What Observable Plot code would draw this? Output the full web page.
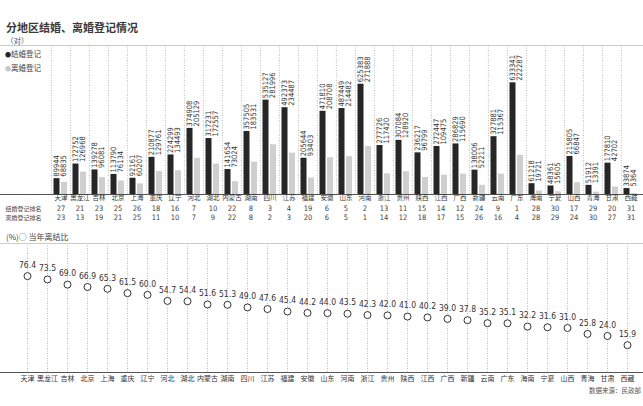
<!DOCTYPE html>
<html>
<head>
<meta charset="utf-8">
<script src="https://cdn.jsdelivr.net/npm/d3@7"></script>
<script src="https://cdn.jsdelivr.net/npm/@observablehq/plot@0.6"></script>
<style>
  body { margin: 0; background: #fff; }
  #wrap { position: relative; width: 643px; height: 406px; overflow: hidden; font-family: "Noto Sans CJK SC", sans-serif; color: #333; }
  .abs { position: absolute; white-space: nowrap; line-height: 1; }
  #topChart, #bottomChart { position: absolute; left: 0; }
</style>
</head>
<body>
<div id="wrap">
  <div class="abs" style="left:6px;top:22px;font-size:11px;font-weight:bold;color:#3a3a3a;">分地区结婚、离婚登记情况</div>
  <div class="abs" style="left:6px;top:37px;font-size:7.5px;color:#555;">（对）</div>
  <div class="abs" style="left:0;top:45px;width:643px;border-top:1px solid #ccc;"></div>
  <div class="abs" style="left:5px;top:50px;font-size:7.5px;color:#444;"><span style="color:#262626;font-size:6px">●</span>结婚登记</div>
  <div class="abs" style="left:5px;top:64px;font-size:7.5px;color:#444;"><span style="color:#c8c8c8;font-size:6px">●</span>离婚登记</div>
  <div id="topChart" style="top:45px"></div>
  <div class="abs" style="left:6px;top:233px;font-size:8px;color:#444;">(%)○ 当年离结比</div>
  <div id="bottomChart" style="top:242px"></div>
  <div class="abs" style="right:2px;top:387px;font-size:6.5px;color:#555;">数据来源：民政部</div>
</div>
<script>
const provinces = ["天津","黑龙江","吉林","北京","上海","重庆","辽宁","河北","湖北","内蒙古","湖南","四川","江苏","福建","安徽","山东","河南","浙江","贵州","陕西","江西","广西","新疆","云南","广东","海南","宁夏","山西","青海","甘肃","西藏"];
const marriages = [89944,172752,139278,113790,92161,210877,224299,374908,317231,141654,357505,535127,492373,205644,471810,487449,625383,277726,307084,236217,272447,286829,138006,327881,633341,61218,48361,215805,51912,177810,33874];
const divorces = [68835,126968,96081,76134,60207,129761,134493,205129,172557,73024,183531,281996,234487,93403,208708,214482,271888,117420,128920,96799,109475,115690,52211,115367,222287,19721,15605,66847,13391,42702,5364];
const marriageRank = [27,21,23,25,26,18,16,7,10,22,8,3,4,19,6,5,2,13,11,15,14,12,24,9,1,28,30,17,29,20,31];
const divorceRank = [23,13,19,21,25,11,10,7,9,22,8,2,3,20,6,5,1,14,12,18,17,15,26,16,4,28,29,24,30,27,31];
const ratio = [76.4,73.5,69.0,66.9,65.3,61.5,60.0,54.7,54.4,51.6,51.3,49.0,47.6,45.4,44.2,44.0,43.5,42.3,42.0,41.0,40.2,39.0,37.8,35.2,35.1,32.2,31.6,31.0,25.8,24.0,15.9];
const rowLabels = ["结婚登记排名","离婚登记排名"];

const rows = provinces.map((p, i) => ({p, m: marriages[i], d: divorces[i], mr: marriageRank[i], dr: divorceRank[i], r: ratio[i]}));

const NUM = "'Liberation Sans Narrow','DejaVu Sans Condensed','Arial Narrow',sans-serif";
const CJK = "'Noto Sans CJK SC',sans-serif";
const W = 643;
const bw = (W - 47) / provinces.length;

const topPlot = Plot.plot({
  width: W, height: 185, marginTop: 0, marginBottom: 36, marginLeft: 0, marginRight: 0,
  style: {background: "transparent", color: "#333"},
  x: {type: "band", domain: provinces, range: [47, W], padding: 0, axis: null},
  y: {domain: [0, 845000], axis: null},
  marks: [
    Plot.ruleX(rows, {x: "p", dx: -bw / 2, stroke: "#aaa", strokeDasharray: "1,1.5", strokeWidth: 0.8}),
    Plot.barY(rows, {x: "p", y: "m", fill: "#262626", insetLeft: 2.5, insetRight: 10.5}),
    Plot.barY(rows, {x: "p", y: "d", fill: "#cfcfcf", insetLeft: 10, insetRight: 3}),
    Plot.ruleY([0], {stroke: "#555", strokeWidth: 1}),
    Plot.text(rows, {x: "p", y: "m", text: d => String(d.m), rotate: -90, textAnchor: "start", dx: -4.5, dy: -2, fontSize: 7.5, fontFamily: NUM, fill: "#333"}),
    Plot.text(rows, {x: "p", y: "m", text: d => String(d.d), rotate: -90, textAnchor: "start", dx: 2.5, dy: -2, fontSize: 7.5, fontFamily: NUM, fill: "#333"}),
    Plot.text(rows, {x: "p", text: "p", frameAnchor: "bottom", dy: 5, fontSize: 6.5, fontFamily: CJK, fill: "#333"}),
    Plot.text(rows, {x: "p", text: "mr", frameAnchor: "bottom", dy: 16, fontSize: 7.5, fontFamily: NUM, fill: "#444"}),
    Plot.text(rows, {x: "p", text: "dr", frameAnchor: "bottom", dy: 25, fontSize: 7.5, fontFamily: NUM, fill: "#444"}),
    Plot.text([rowLabels[0]], {frameAnchor: "bottom-left", dx: 5, dy: 16, textAnchor: "start", fontSize: 6, fontFamily: CJK, fill: "#444"}),
    Plot.text([rowLabels[1]], {frameAnchor: "bottom-left", dx: 5, dy: 25, textAnchor: "start", fontSize: 6, fontFamily: CJK, fill: "#444"})
  ]
});
document.getElementById("topChart").appendChild(topPlot);

const bottomPlot = Plot.plot({
  width: W, height: 148, marginTop: 1, marginBottom: 18, marginLeft: 0, marginRight: 0,
  style: {background: "transparent", color: "#333"},
  x: {type: "band", domain: provinces, range: [10, W], padding: 0, axis: null},
  y: {domain: [-8, 105], axis: null},
  marks: [
    Plot.ruleX(rows, {x: "p", stroke: "#aaa", strokeDasharray: "1,1.5", strokeWidth: 0.8}),
    Plot.ruleY([105], {stroke: "#ccc"}),
    Plot.ruleY([-8], {stroke: "#555"}),
    Plot.dot(rows, {x: "p", y: "r", r: 3.5, stroke: "#333", fill: "white", strokeWidth: 1}),
    Plot.text(rows, {x: "p", y: "r", text: d => d.r.toFixed(1), dy: -11, fontSize: 8.5, fontFamily: NUM, fill: "#333"}),
    Plot.text(rows, {x: "p", text: "p", frameAnchor: "bottom", dy: 8, fontSize: 7, fontFamily: CJK, fill: "#333"})
  ]
});
document.getElementById("bottomChart").appendChild(bottomPlot);
</script>
</body>
</html>
